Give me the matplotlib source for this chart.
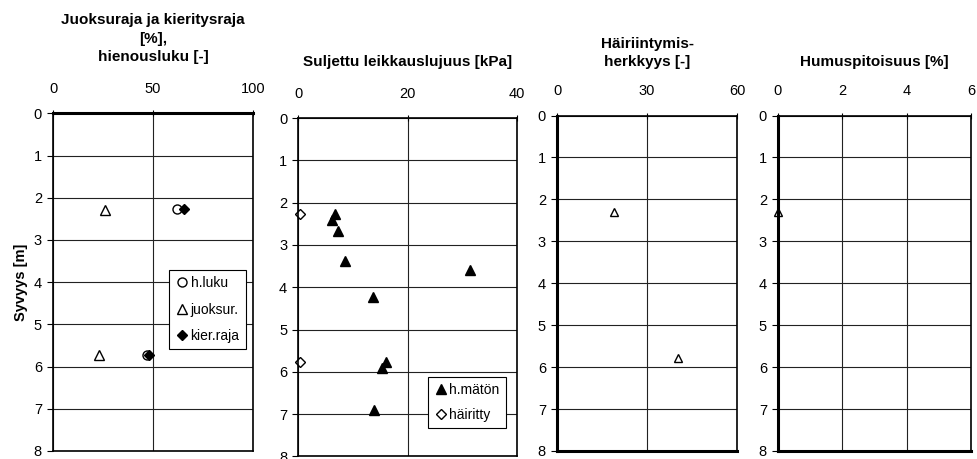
import numpy as np
import matplotlib.pyplot as plt

plt.rcParams['font.family'] = ['Liberation Sans', 'DejaVu Sans']

# Paneeli 1: juoksuraja, kieritysraja, hienousluku
hluku_x = [61.8, 47.0]
hluku_z = [2.27, 5.73]
juoks_x = [26.0, 23.2]
juoks_z = [2.29, 5.73]
kier_x = [65.5, 47.8]
kier_z = [2.27, 5.73]

# Paneeli 2: suljettu leikkauslujuus
hmaton_x = [6.7, 6.1, 7.2, 8.5, 31.3, 13.6, 16.0, 15.2, 13.9]
hmaton_z = [2.26, 2.41, 2.68, 3.37, 3.60, 4.24, 5.77, 5.90, 6.90]
hairitty_x = [0.3, 0.3]
hairitty_z = [2.26, 5.77]

# Paneeli 3: häiriintymisherkkyys
herk_x = [19.0, 40.4]
herk_z = [2.31, 5.79]

# Paneeli 4: humuspitoisuus
humus_x = [0.0]
humus_z = [2.30]

W, H = 977, 459
fig = plt.figure(figsize=(W / 100, H / 100), dpi=100)


def make_ax(l, r, t, b, xmax, xticks):
    ax = fig.add_axes([l / W, 1 - b / H, (r - l) / W, (b - t) / H])
    ax.set_xlim(0, xmax)
    ax.set_ylim(8, 0)
    ax.set_xticks(xticks)
    ax.set_yticks(range(0, 9))
    ax.xaxis.tick_top()
    ax.tick_params(axis='x', direction='inout', length=5, width=0.8, labelsize=10.5, pad=10)
    ax.tick_params(axis='y', direction='out', length=4, width=0.8, labelsize=10.5, pad=4)
    ax.grid(True, color='#222222', lw=0.8)
    ax.set_axisbelow(True)
    for s in ax.spines.values():
        s.set_linewidth(1.2)
        s.set_color('black')
    return ax


def title(l, r, y, txt):
    # otsikon alareuna pikseleinä ylhäältä
    fig.text((l + r) / 2 / W, 1 - y / H, txt, ha='center', va='bottom',
             fontsize=11, fontweight='bold', linespacing=1.4)


open_kw = dict(ls='none', mfc='white', mec='black', mew=1.0, clip_on=False)
fill_kw = dict(ls='none', mfc='black', mec='black', clip_on=False)
leg_kw = dict(loc='upper left', fontsize=10, frameon=True, fancybox=False,
              edgecolor='black', framealpha=1, handletextpad=0.1,
              handlelength=1.0, borderpad=0.45, borderaxespad=0)

# 1
ax1 = make_ax(53, 253, 113.3, 451, 100, [0, 50, 100])
ax1.spines['top'].set_linewidth(2.2)
ax1.plot(hluku_x, hluku_z, 'o', ms=6.5, label='h.luku', **open_kw)
ax1.plot(juoks_x, juoks_z, '^', ms=7, label='juoksur.', **open_kw)
ax1.plot(kier_x, kier_z, 'D', ms=5, label='kier.raja', **fill_kw)
title(53, 253, 64, 'Juoksuraja ja kieritysraja\n[%],\nhienousluku [-]')
ax1.set_ylabel('Syvyys [m]', fontsize=10.5, fontweight='bold', labelpad=4)
leg1 = ax1.legend(bbox_to_anchor=(0.58, 0.536), labelspacing=0.9, **leg_kw)
leg1.get_frame().set_linewidth(0.8)

# 2
ax2 = make_ax(298.3, 517.3, 118, 456.4, 40, [0, 20, 40])
ax2.plot(hmaton_x, hmaton_z, '^', ms=7, label='h.mätön', **fill_kw)
ax2.plot(hairitty_x, hairitty_z, 'D', ms=5, label='häiritty', **open_kw)
title(298.3, 517.3, 69, 'Suljettu leikkauslujuus [kPa]')
leg2 = ax2.legend(bbox_to_anchor=(0.592, 0.235), labelspacing=0.75, **leg_kw)
leg2.get_frame().set_linewidth(0.8)

# 3
ax3 = make_ax(557, 737, 115.5, 451, 60, [0, 30, 60])
ax3.spines['left'].set_linewidth(2.2)
ax3.spines['bottom'].set_linewidth(2.2)
ax3.plot(herk_x, herk_z, '^', ms=6, **open_kw)
title(557, 737, 69, 'Häiriintymis-\nherkkyys [-]')

# 4
ax4 = make_ax(778, 971, 115.5, 451, 6, [0, 2, 4, 6])
ax4.spines['left'].set_linewidth(2.2)
ax4.spines['bottom'].set_linewidth(2.2)
ax4.plot(humus_x, humus_z, '^', ms=6, **open_kw)
title(778, 971, 69, 'Humuspitoisuus [%]')

fig.savefig('out.png', dpi=100)
